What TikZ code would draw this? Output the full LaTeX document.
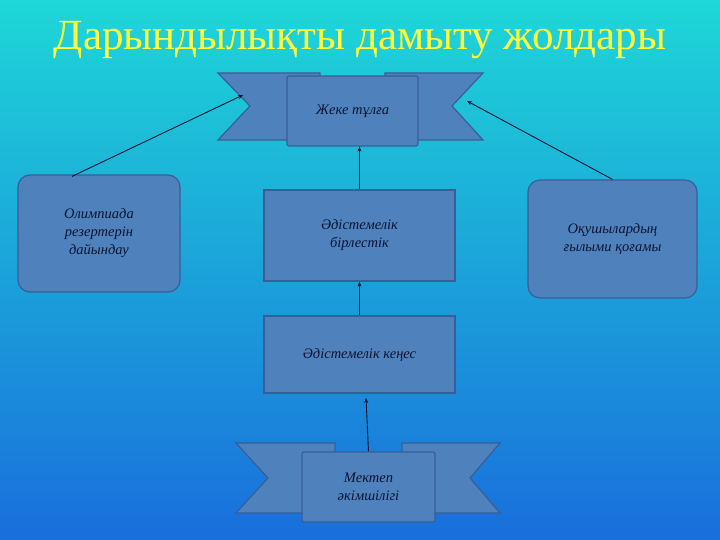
\documentclass[tikz,border=0pt]{standalone}
\usepackage{fontspec}
\usetikzlibrary{arrows.meta}
\setmainfont{Liberation Serif}
\begin{document}
\begin{tikzpicture}[x=1pt,y=-1pt,
  sh/.style={fill={rgb,255:red,79;green,129;blue,189},draw={rgb,255:red,55;green,95;blue,150},line width=1.2pt},
  lbl/.style={font=\itshape\fontsize{14.5}{18}\selectfont,align=center,text={rgb,255:red,10;green,20;blue,50}},
  arr/.style={-{Stealth[length=5pt,width=4pt]},line width=0.9pt,draw={rgb,255:red,10;green,20;blue,50}}]
\shade[top color={rgb,255:red,30;green,215;blue,215},bottom color={rgb,255:red,25;green,110;blue,220}] (0,0) rectangle (720,540);
\useasboundingbox (0,0) rectangle (720,540);
\node[font=\fontsize{43}{46}\selectfont,text={rgb,255:red,255;green,255;blue,60}] (title) at (360,40) {Дарындылықты дамыту жолдары};
% top ribbon
\draw[sh] (218,73) -- (320,73) -- (320,140) -- (218,140) -- (250,106) -- cycle;
\draw[sh] (483,73) -- (385,73) -- (385,140) -- (483,140) -- (452,106) -- cycle;
\node[sh,rounded corners=2pt,minimum width=131pt,minimum height=70pt,lbl] (top) at (352.5,111) {Жеке тұлға};
% bottom ribbon
\draw[sh] (236,443) -- (335,443) -- (335,513) -- (236,513) -- (268,478) -- cycle;
\draw[sh] (500,443) -- (402,443) -- (402,513) -- (500,513) -- (470,478) -- cycle;
\node[sh,rounded corners=2pt,minimum width=133pt,minimum height=70pt,lbl] (bot) at (368.5,487) {Мектеп\\әкімшілігі};
% boxes
\node[sh,rounded corners=12pt,minimum width=162pt,minimum height=117pt,lbl] (ol) at (99,233.5) {Олимпиада\\резертерін\\дайындау};
\node[sh,rounded corners=12pt,minimum width=169pt,minimum height=118pt,lbl] (oq) at (612.5,239) {Оқушылардың\\ғылыми қоғамы};
\node[sh,minimum width=191pt,minimum height=91pt,lbl] (bir) at (359.5,235.5) {Әдістемелік\\бірлестік};
\node[sh,minimum width=191pt,minimum height=77pt,lbl] (ken) at (359.5,354.5) {Әдістемелік кеңес};
% arrows
\coordinate (a1) at (243,95); \coordinate (a2) at (467,101);
\draw[arr] (ol.north) ++(-27,2) -- (a1);
\draw[arr] (oq.north) -- (a2);
\draw[arr] (bir.north) -- (bir.north |- top.south);
\draw[arr] (ken.north) -- (bir.south);
\coordinate (a3) at (366,398);
\draw[arr] (bot.north) -- (a3);
\end{tikzpicture}
\end{document}
